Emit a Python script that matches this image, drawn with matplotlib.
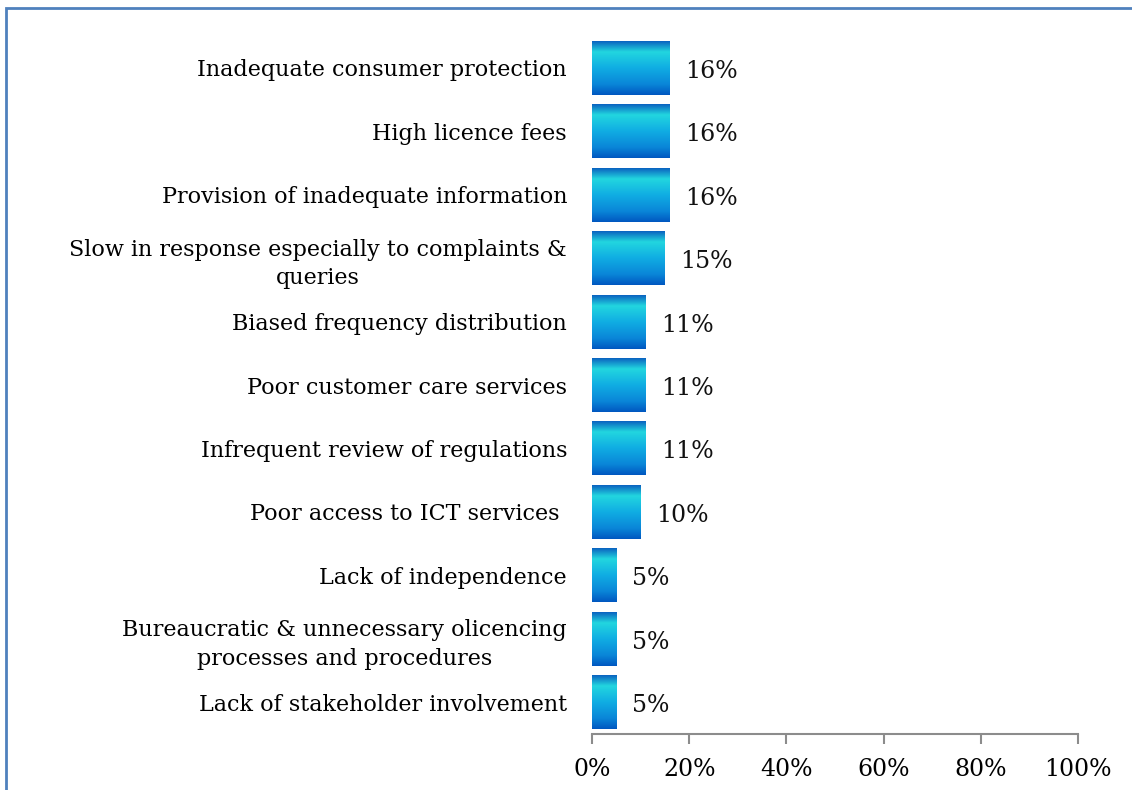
import matplotlib.pyplot as plt
import numpy as np
from matplotlib.colors import LinearSegmentedColormap
from matplotlib.patches import Rectangle
from matplotlib.ticker import FuncFormatter

plt.rcParams['font.family'] = ['DejaVu Serif']

issues = ['Inadequate consumer protection',
          'High licence fees',
          'Provision of inadequate information',
          'Slow in response especially to complaints &\nqueries',
          'Biased frequency distribution',
          'Poor customer care services',
          'Infrequent review of regulations',
          'Poor access to ICT services ',
          'Lack of independence',
          'Bureaucratic & unnecessary olicencing\nprocesses and procedures',
          'Lack of stakeholder involvement']
share = [16, 16, 16, 15, 11, 11, 11, 10, 5, 5, 5]
value_labels = ['16%', '16%', '16%', '15%', '11%', '11%', '11%', '10%', '5%', '5%', '5%']
xticks = [0, 20, 40, 60, 80, 100]

# vertical shading used on every bar (top -> bottom)
shade = LinearSegmentedColormap.from_list('bar_shade', [
    (0.0, '#0b62c0'), (0.2, '#22d6df'), (0.5, '#10ade3'),
    (0.8, '#0a86d8'), (1.0, '#0057c0')])
grad = np.linspace(0, 1, 256).reshape(-1, 1)

fig = plt.figure(figsize=(11.32, 7.9), dpi=100)
ax = fig.add_axes([592/1132, 56/790, 486/1132, 698/790])

y = np.arange(len(issues))
bars = ax.barh(y, share, height=0.85, color='none', edgecolor='none')
for b in bars:
    x0, y0 = b.get_x(), b.get_y()
    ax.imshow(grad, cmap=shade, aspect='auto', interpolation='bilinear',
              extent=[x0, x0 + b.get_width(), y0 + b.get_height(), y0], zorder=2)

for yi, v, lab in zip(y, share, value_labels):
    ax.annotate(lab, (v, yi), xytext=(11, -2.5), textcoords='offset points',
                va='center', ha='left', fontsize=17, color='#111111')

ax.set_xlim(0, 100)
ax.set_ylim(len(issues) - 0.5, -0.5)
ax.set_xticks(xticks)
ax.xaxis.set_major_formatter(FuncFormatter(lambda v, p: f'{v:.0f}%'))
ax.set_yticks(y)
ax.set_yticklabels(issues, fontsize=16, multialignment='center', linespacing=1.4)
ax.tick_params(axis='y', length=0, pad=18)
ax.tick_params(axis='x', direction='out', length=7, width=1.5, color='#8c8c8c',
               labelsize=17, pad=10)
for s in ['top', 'right', 'left']:
    ax.spines[s].set_visible(False)
ax.spines['bottom'].set_color('#8c8c8c')
ax.spines['bottom'].set_linewidth(1.5)

# frame line along the left and top edge
fig.patches.append(Rectangle((6/1132, -0.1), 1.2, 1.1 - 8/790, transform=fig.transFigure,
                             fill=False, edgecolor='#4f81bd', linewidth=2))

fig.savefig('out.png', dpi=100)
